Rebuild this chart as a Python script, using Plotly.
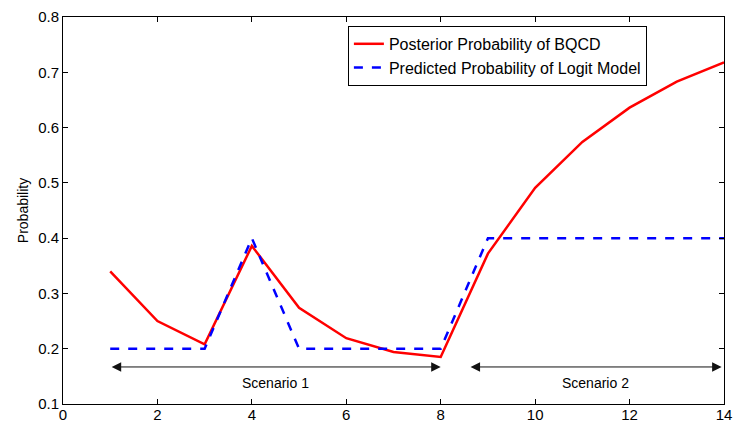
import plotly.graph_objects as go

x_vals = list(range(1, 15))
bqcd = [0.340, 0.250, 0.208, 0.386, 0.274, 0.219, 0.194, 0.185, 0.372, 0.491, 0.574, 0.636, 0.683, 0.718]
logit = [0.2, 0.2, 0.2, 0.4, 0.2, 0.2, 0.2, 0.2, 0.4, 0.4, 0.4, 0.4, 0.4, 0.4]

scenario_names = ["Scenario 1", "Scenario 2"]
scenario_start = [1.0, 8.6]
scenario_end = [8.0, 13.95]
arrow_level = 0.167
label_level = 0.138

font_fam = "Liberation Sans, Arial, sans-serif"

fig = go.Figure()
fig.add_trace(go.Scatter(x=x_vals, y=bqcd, mode="lines", name="Posterior Probability of BQCD",
                         line=dict(color="#ff0000", width=2.5)))
fig.add_trace(go.Scatter(x=x_vals, y=logit, mode="lines", name="Predicted Probability of Logit Model",
                         line=dict(color="#0000ff", width=2.5, dash="dash")))

for name, s, e in zip(scenario_names, scenario_start, scenario_end):
    fig.add_annotation(x=e, y=arrow_level, ax=s, ay=arrow_level, xref="x", yref="y",
                       axref="x", ayref="y", text="", showarrow=True,
                       arrowhead=2, startarrowhead=2, arrowside="end+start",
                       arrowsize=1.9, startarrowsize=1.9, arrowwidth=1, arrowcolor="#111111")
    fig.add_annotation(x=(s + e) / 2, y=label_level, xref="x", yref="y", text=name,
                       showarrow=False, font=dict(family=font_fam, size=14, color="black"))

axis_common = dict(showline=True, linecolor="black", linewidth=1, mirror="ticks",
                   ticks="inside", ticklen=5, tickcolor="black", showgrid=False, zeroline=False,
                   automargin=False,
                   tickfont=dict(family=font_fam, size=15, color="black"))

fig.update_layout(
    width=733, height=423,
    margin=dict(l=63, r=9, t=17, b=19),
    plot_bgcolor="white", paper_bgcolor="white",
    showlegend=True,
    legend=dict(x=0.431, y=0.977, xanchor="left", yanchor="top",
                bordercolor="black", borderwidth=1, bgcolor="white",
                font=dict(family=font_fam, size=16, color="black"),
                tracegroupgap=0),
    xaxis=dict(range=[0, 14], tickmode="array", tickvals=list(range(0, 15, 2)),
               ticklabelstandoff=-3, **axis_common),
    yaxis=dict(range=[0.1, 0.8], tickmode="array", tickvals=[0.1, 0.2, 0.3, 0.4, 0.5, 0.6, 0.7, 0.8],
               ticktext=["0.1", "0.2", "0.3", "0.4", "0.5", "0.6", "0.7", "0.8"],
               title=dict(text="Probability", font=dict(family=font_fam, size=14, color="black"), standoff=6),
               **axis_common),
)

fig.write_html("out.html")
